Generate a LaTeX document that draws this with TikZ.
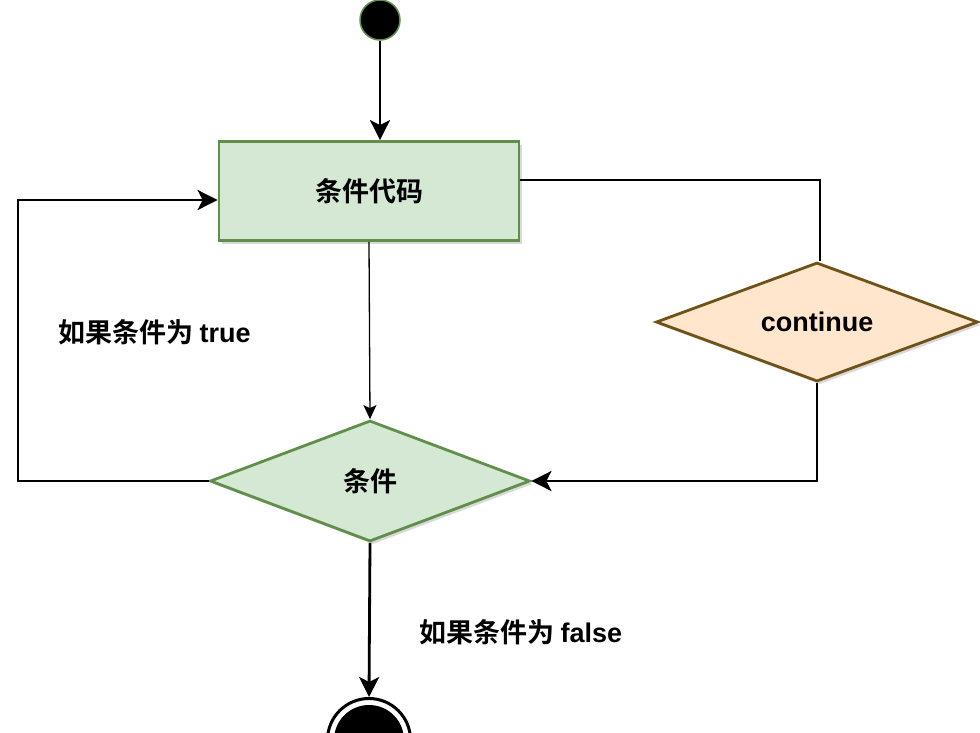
\documentclass[tikz,border=0pt]{standalone}
\usepackage{fontspec}
\setmainfont{Liberation Sans}
\newfontfamily\cjk{Noto Sans CJK SC}[BoldFont=Noto Sans CJK SC Bold]
\usetikzlibrary{shapes.geometric,arrows.meta,shadows,calc}
\definecolor{gfill}{HTML}{D5E8D4}
\definecolor{gdraw}{HTML}{5F8F48}
\definecolor{ofill}{HTML}{FFE6CC}
\definecolor{odraw}{HTML}{6E5218}
\tikzset{
  shd/.style={drop shadow={shadow xshift=3pt,shadow yshift=-3pt,opacity=0.25,fill=black!60}},
  procbox/.style={rectangle,draw=gdraw,fill=gfill,line width=2.8pt,minimum width=300pt,minimum height=99pt,inner sep=0pt,shd},
  gdia/.style={diamond,aspect=2.6,draw=gdraw,fill=gfill,line width=2.8pt,minimum width=320pt,minimum height=121pt,inner sep=0pt,shd},
  odia/.style={diamond,aspect=2.7,draw=odraw,fill=ofill,line width=2.8pt,minimum width=322pt,minimum height=119pt,inner sep=0pt,shd},
  txt/.style={font=\fontsize{27}{32}\selectfont\bfseries},
  conn/.style={line width=2.8pt,draw=black},
  arr/.style={conn,-{Stealth[length=20pt,width=20pt,inset=5pt]}},
  thinarr/.style={line width=1.3pt,-{Stealth[length=14pt,width=13pt,inset=3pt]}},
}
\begin{document}
\begin{tikzpicture}[x=1pt,y=-1pt]
\useasboundingbox (0,0) rectangle (980,732);
% nodes
\node[circle,fill=black,draw=gdraw,line width=1.5pt,minimum size=40pt,inner sep=0pt] (start) at (380,20) {};
\node[procbox,txt] (rect) at (369,191) {\cjk 条件代码};
\node[gdia,txt] (cond) at (370,481) {\cjk 条件};
\node[odia,txt] (cont) at (817,322) {continue};
\node[circle,draw=black,line width=3pt,minimum size=83pt,inner sep=0pt,fill=white] (end) at (369,740) {};
\node[circle,fill=black,minimum size=70pt,inner sep=0pt] (endin) at (end.center) {};
% labels
\node[txt,anchor=west] (lt) at (55,332) {\cjk 如果条件为\ \rmfamily true};
\node[txt,anchor=west] (lf) at (416,632) {\cjk 如果条件为\ \rmfamily false};
% coordinates
\coordinate (lc) at (18,200);
\coordinate (rc) at (820,180);
% connectors
\draw[arr] (start.south) -- (start.south |- rect.north);
\draw[thinarr] (rect.south) -- (cond.north);
\draw[arr] (cond.west) -| (lc) -- (lc -| rect.west);
\draw[conn] (rect.east |- rc) -- (rc) -- (rc |- cont.north);
\draw[arr] (cont.south) |- (cond.east);
\draw[arr] (cond.south) -- (end.north);
\end{tikzpicture}
\end{document}
